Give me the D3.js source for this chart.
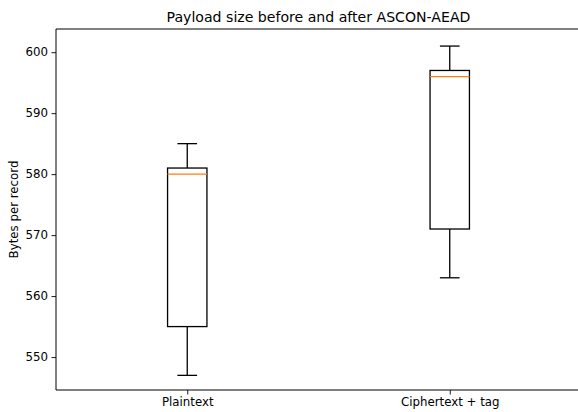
<!DOCTYPE html>
<html>
<head>
<meta charset="utf-8">
<script src="https://cdn.jsdelivr.net/npm/d3@7"></script>
<style>
html,body{margin:0;padding:0;background:#fff;}
svg{display:block;font-family:"DejaVu Sans",sans-serif;}
</style>
</head>
<body>
<svg id="chart" width="578" height="412"></svg>
<script>
const categories = ["Plaintext", "Ciphertext + tag"];
const whiskerLow = [547, 563];
const q1 = [555, 571];
const median = [580, 596];
const q3 = [581, 597];
const whiskerHigh = [585, 601];
const yTicks = [550, 560, 570, 580, 590, 600];
const title = "Payload size before and after ASCON-AEAD";
const yLabel = "Bytes per record";

const svg = d3.select("#chart");
const L = 56, R = 581, T = 29, B = 390;
const x = d3.scaleLinear().domain([0.5, 2.5]).range([L, R]);
const y = d3.scaleLinear().domain([544.6, 603.8]).range([B, T]);

const boxW = 0.15, capW = 0.075;
const ink = "#000";
const fs = 11.8;

const g = svg.append("g");
categories.forEach((c, i) => {
  const p = i + 1;
  const gg = g.append("g");
  gg.append("line").attr("x1", x(p)).attr("x2", x(p)).attr("y1", y(q3[i])).attr("y2", y(whiskerHigh[i]))
    .attr("stroke", ink).attr("stroke-width", 1.3);
  gg.append("line").attr("x1", x(p)).attr("x2", x(p)).attr("y1", y(q1[i])).attr("y2", y(whiskerLow[i]))
    .attr("stroke", ink).attr("stroke-width", 1.3);
  [whiskerHigh[i], whiskerLow[i]].forEach(v => {
    gg.append("line").attr("x1", x(p - capW / 2)).attr("x2", x(p + capW / 2))
      .attr("y1", y(v)).attr("y2", y(v)).attr("stroke", ink).attr("stroke-width", 1.3);
  });
  gg.append("rect").attr("x", x(p - boxW / 2)).attr("y", y(q3[i]))
    .attr("width", x(p + boxW / 2) - x(p - boxW / 2)).attr("height", y(q1[i]) - y(q3[i]))
    .attr("fill", "none").attr("stroke", ink).attr("stroke-width", 1.3);
  gg.append("line").attr("x1", x(p - boxW / 2)).attr("x2", x(p + boxW / 2))
    .attr("y1", y(median[i])).attr("y2", y(median[i]))
    .attr("stroke", "#ff7f0e").attr("stroke-width", 1.3);
});

const yAxis = d3.axisLeft(y).tickValues(yTicks).tickSize(4.5).tickPadding(3.5).tickFormat(d3.format("d"));
const ya = svg.append("g").attr("transform", `translate(${L},0)`).call(yAxis);
ya.select(".domain").remove();
ya.selectAll("line").attr("stroke", "#000").attr("stroke-width", 0.9);
ya.selectAll("text").attr("font-size", fs).attr("fill", "#000").attr("font-family", "DejaVu Sans");

const xAxis = d3.axisBottom(x).tickValues([1, 2]).tickSize(4.5).tickPadding(3.5).tickFormat(d => categories[d - 1]);
const xa = svg.append("g").attr("transform", `translate(0,${B})`).call(xAxis);
xa.select(".domain").remove();
xa.selectAll("line").attr("stroke", "#000").attr("stroke-width", 0.9);
xa.selectAll("text").attr("font-size", fs).attr("fill", "#000").attr("font-family", "DejaVu Sans");

svg.append("line").attr("x1", L).attr("x2", L).attr("y1", T).attr("y2", B).attr("stroke", "#000").attr("stroke-width", 1);
svg.append("line").attr("x1", L).attr("x2", R).attr("y1", B).attr("y2", B).attr("stroke", "#000").attr("stroke-width", 1);
svg.append("line").attr("x1", L).attr("x2", R).attr("y1", T).attr("y2", T).attr("stroke", "#000").attr("stroke-width", 1);
svg.append("line").attr("x1", R).attr("x2", R).attr("y1", T).attr("y2", B).attr("stroke", "#000").attr("stroke-width", 1);

svg.append("text").attr("x", (L + R) / 2).attr("y", 22).attr("text-anchor", "middle")
  .attr("font-size", 14.1).attr("fill", "#000").text(title);

svg.append("text").attr("transform", `translate(18,${(T + B) / 2}) rotate(-90)`)
  .attr("text-anchor", "middle").attr("font-size", fs).attr("fill", "#000").text(yLabel);
</script>
</body>
</html>
